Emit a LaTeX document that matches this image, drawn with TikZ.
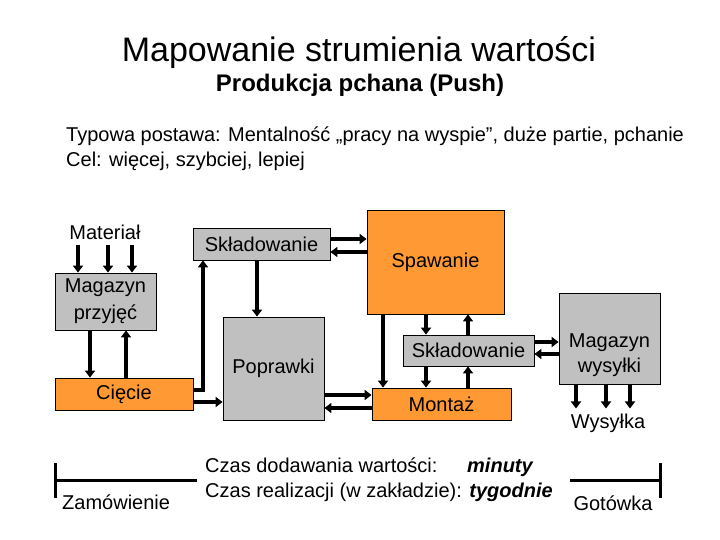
\documentclass[tikz,border=0pt]{standalone}
\usepackage{fontspec}
\setmainfont{Liberation Sans}
\usepackage{tikz}
\usetikzlibrary{arrows.meta}
\definecolor{boxgray}{RGB}{192,192,192}
\definecolor{boxorange}{RGB}{255,153,51}

\begin{document}
\begin{tikzpicture}[x=1pt, y=-1pt,
    txt/.style={inner sep=0pt, font=\fontsize{20}{26}\selectfont},
    endtxt/.style={txt, inner sep=5pt},
    grayblock/.style={draw, fill=boxgray, line width=0.8pt, inner sep=0pt,
        font=\fontsize{20}{27}\selectfont, align=center},
    orangeblock/.style={grayblock, fill=boxorange},
    flow/.style={line width=3.5pt, -{Triangle[length=7pt, width=10pt]}},
    tline/.style={line width=3pt}]

    % Page
    \fill[white] (0,0) rectangle (720,540);
    \useasboundingbox (0,0) rectangle (720,540);

    % Title and subtitle
    \node[anchor=base, inner sep=0pt, font=\fontsize{34}{40}\selectfont] (title) at (359,62) {Mapowanie strumienia wartości};
    \node[anchor=base, inner sep=0pt, font=\fontsize{24}{28}\selectfont\bfseries] (subtitle) at (360,92) {Produkcja pchana (Push)};

    % Notes
    \node[txt, anchor=base west] (typowa) at (66,142) {Typowa postawa: Mentalność „pracy na wyspie”, duże partie, pchanie};
    \node[txt, anchor=base west] (cel) at (66,167) {Cel: więcej, szybciej, lepiej};

    % Process blocks
    \node[grayblock, minimum width=101pt, minimum height=57pt] (magp) at (105.5,301.5) {Magazyn\\przyjęć};
    \node[orangeblock, minimum width=138pt, minimum height=32pt] (ciecie) at (124,394) {Cięcie};
    \node[grayblock, minimum width=137pt, minimum height=32pt] (skl1) at (261.5,244) {Składowanie};
    \node[grayblock, minimum width=101pt, minimum height=103pt] (popr) at (273.5,368.5) {Poprawki};
    \node[orangeblock, minimum width=137pt, minimum height=104pt] (spaw) at (435.5,262) {Spawanie};
    \node[grayblock, minimum width=131pt, minimum height=31pt] (skl2) at (468.5,350.5) {Składowanie};
    \node[orangeblock, minimum width=139pt, minimum height=32pt] (montaz) at (441.5,404) {Montaż};
    \node[grayblock, minimum width=101pt, minimum height=91pt] (magw) at (609.5,338.5) {};
    \node[txt, align=center, font=\fontsize{20}{25}\selectfont] (magwtxt) at ([yshift=-17pt]magw.center) {Magazyn\\wysyłki};

    % In and out
    \node[endtxt] (mat) at (105,232) {Materiał};
    \node[endtxt] (wys) at (608,423) {Wysyłka};

    % Material in, shipping out
    \foreach \dx in {-27,3,27}
        \draw[flow] ([xshift=\dx pt]mat.south) -- ([xshift=\dx pt]mat.south |- magp.north);
    \foreach \dx in {-33.5,-3.5,20.5}
        \draw[flow] ([xshift=\dx pt]magw.south) -- ([xshift=\dx pt]magw.south |- wys.north);

    % Flows between blocks
    \draw[flow] ([xshift=-15.5pt]magp.south) -- ([xshift=-15.5pt]magp.south |- ciecie.north);
    \draw[flow] ([xshift=20.5pt]magp.south |- ciecie.north) -- ([xshift=20.5pt]magp.south);
    \draw[flow] ([yshift=4pt]ciecie.east) -| ([xshift=-58.5pt]skl1.south);
    \draw[flow] ([yshift=-8pt]ciecie.east) -- ([yshift=-8pt]ciecie.east -| popr.west);
    \draw[flow] ([xshift=-4.5pt]skl1.south) -- ([xshift=-4.5pt]skl1.south |- popr.north);
    \draw[flow] ([yshift=5pt]skl1.east) -- ([yshift=5pt]skl1.east -| spaw.west);
    \draw[flow] ([yshift=-8pt]skl1.east -| spaw.west) -- ([yshift=-8pt]skl1.east);
    \draw[flow] ([xshift=-52.5pt]spaw.south) -- ([xshift=-52.5pt]spaw.south |- montaz.north);
    \draw[flow] ([xshift=-42.5pt]skl2.north |- spaw.south) -- ([xshift=-42.5pt]skl2.north);
    \draw[flow] ([xshift=-0.5pt]skl2.north) -- ([xshift=-0.5pt]skl2.north |- spaw.south);
    \draw[flow] ([xshift=-42.5pt]skl2.south) -- ([xshift=-42.5pt]skl2.south |- montaz.north);
    \draw[flow] ([xshift=-0.5pt]skl2.south |- montaz.north) -- ([xshift=-0.5pt]skl2.south);
    \draw[flow] ([yshift=8.5pt]skl2.east) -- ([yshift=8.5pt]skl2.east -| magw.west);
    \draw[flow] ([yshift=-3.5pt]skl2.east -| magw.west) -- ([yshift=-3.5pt]skl2.east);
    \draw[flow] ([yshift=9pt]montaz.west -| popr.east) -- ([yshift=9pt]montaz.west);
    \draw[flow] ([yshift=-4pt]montaz.west) -- ([yshift=-4pt]montaz.west -| popr.east);

    % Time line
    \coordinate (order) at (55,480);
    \coordinate (cash) at (660,480);
    \draw[tline] (order) ++(0,-17) -- ++(0,35);
    \draw[tline] (order) -- (197,480);
    \draw[tline] (570,480) -- (cash);
    \draw[tline] (cash) ++(0,-17) -- ++(0,35);
    \node[txt, anchor=base west] (zam) at (62,509) {Zamówienie};
    \node[txt, anchor=base] (got) at (613,510) {Gotówka};
    \node[txt, anchor=base west] (czas1) at (205,472) {Czas dodawania wartości:};
    \node[txt, anchor=base west] (minuty) at (467,472) {\textbf{\textit{minuty}}};
    \node[txt, anchor=base west] (czas2) at (205,497) {Czas realizacji (w zakładzie): \textbf{\textit{tygodnie}}};
\end{tikzpicture}
\end{document}
